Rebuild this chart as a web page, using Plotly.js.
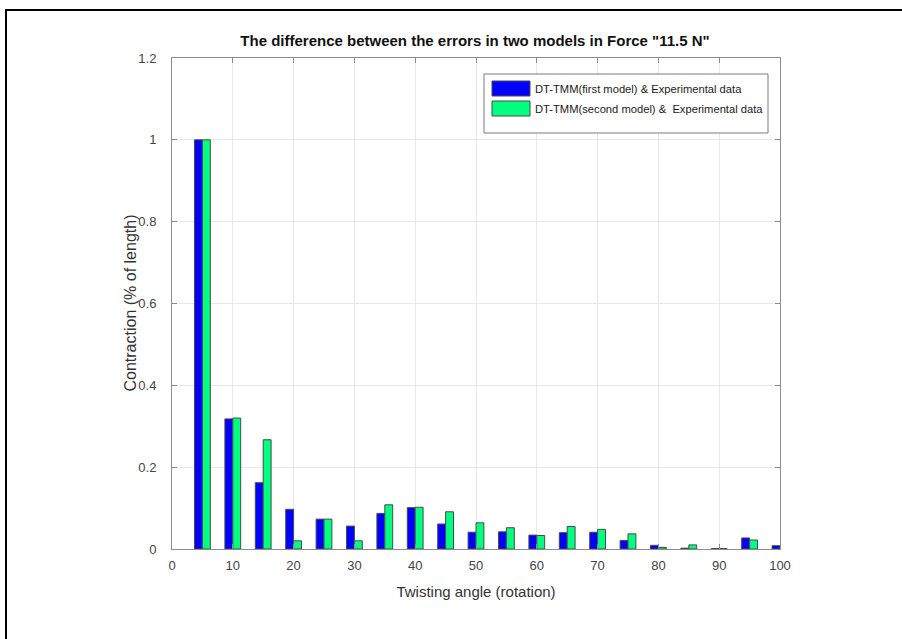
<!DOCTYPE html>
<html>
<head>
<meta charset="utf-8">
<script src="https://cdn.plot.ly/plotly-3.0.1.min.js"></script>
<style>
  html, body { margin: 0; padding: 0; background: #fff; }
  #wrap { position: relative; width: 902px; height: 639px; }
  #chart { width: 902px; height: 639px; }
  #frame { position: absolute; left: 5px; top: 9px; right: 0; bottom: 0;
           border-top: 2px solid #000; border-left: 2px solid #000; pointer-events: none; }
</style>
</head>
<body>
<div id="wrap">
  <div id="chart"></div>
  <div id="frame"></div>
</div>
<script>
// Twisting angle (rotation) for each group of bars
const angles = [5, 10, 15, 20, 25, 30, 35, 40, 45, 50, 55, 60, 65, 70, 75, 80, 85, 90, 95, 100];

// Normalised error differences for each model against experimental data
const firstModel  = [1.000, 0.318, 0.162, 0.097, 0.073, 0.056, 0.087, 0.101, 0.061, 0.041,
                     0.042, 0.034, 0.040, 0.041, 0.021, 0.009, 0.002, 0.001, 0.027, 0.008];
const secondModel = [1.000, 0.320, 0.267, 0.020, 0.073, 0.020, 0.108, 0.102, 0.091, 0.064,
                     0.052, 0.033, 0.055, 0.048, 0.037, 0.004, 0.010, 0.001, 0.022, 0.005];

const seriesNames = [
  'DT-TMM(first model) & Experimental data',
  'DT-TMM(second model) &  Experimental data'
];
const seriesColors = ['#0000ff', '#00ff80'];

const xTicks = [0, 10, 20, 30, 40, 50, 60, 70, 80, 90, 100];
const yTicks = [0, 0.2, 0.4, 0.6, 0.8, 1, 1.2];

const sans = '"Liberation Sans", Arial, sans-serif';
const barW = 1.3;

const traces = [firstModel, secondModel].map((vals, i) => ({
  type: 'bar',
  x: angles,
  y: vals,
  name: seriesNames[i],
  width: barW,
  offset: i === 0 ? -barW : 0,
  marker: { color: seriesColors[i], line: { color: '#4a4a4a', width: 1 } },
  showlegend: false,
  hoverinfo: 'x+y'
}));

// Plot area in pixels, used to place the boxed legend in paper coordinates
const PX = { l: 172, r: 780, t: 58, b: 549 };
const px2x = p => (p - PX.l) / (PX.r - PX.l);
const px2y = p => 1 - (p - PX.t) / (PX.b - PX.t);

const shapes = [{
  type: 'rect', xref: 'paper', yref: 'paper',
  x0: px2x(484), x1: px2x(768), y0: px2y(133), y1: px2y(74),
  line: { color: '#7a7a7a', width: 1 }, fillcolor: '#ffffff', layer: 'above'
}];
const annotations = [];
[[81, 96], [101, 116]].forEach(([top, bot], i) => {
  shapes.push({
    type: 'rect', xref: 'paper', yref: 'paper',
    x0: px2x(492), x1: px2x(530), y0: px2y(bot), y1: px2y(top),
    line: { color: '#4a4a4a', width: 1 }, fillcolor: seriesColors[i], layer: 'above'
  });
  annotations.push({
    xref: 'paper', yref: 'paper', x: px2x(533), y: px2y((top + bot) / 2),
    xanchor: 'left', yanchor: 'middle', showarrow: false,
    text: seriesNames[i], font: { family: sans, size: 11.2, color: '#1a1a1a' }
  });
});

// Vertical axis title, centred on the axis
annotations.push({
  xref: 'paper', yref: 'paper', x: px2x(130), y: 0.5,
  xanchor: 'center', yanchor: 'middle', showarrow: false, textangle: -90,
  text: 'Contraction (% of length)', font: { family: sans, size: 16, color: '#333' }
});

const axisCommon = {
  showline: true, linecolor: '#8c8c8c', linewidth: 1, mirror: 'ticks',
  ticks: 'inside', ticklen: 5, tickcolor: '#8c8c8c',
  showgrid: true, gridcolor: '#e8e8e8', gridwidth: 1,
  zeroline: false, fixedrange: true,
  tickfont: { family: sans, size: 13, color: '#444' }
};

const layout = {
  width: 902, height: 639,
  margin: { l: 172, r: 122, t: 58, b: 90 },
  paper_bgcolor: '#ffffff', plot_bgcolor: '#ffffff',
  barmode: 'overlay',
  title: {
    text: '<b>The difference between the errors in two models in Force "11.5 N"</b>',
    font: { family: sans, size: 15, color: '#111' },
    x: 475 / 902, xanchor: 'center', y: 1 - 41 / 639, yanchor: 'middle'
  },
  xaxis: Object.assign({}, axisCommon, {
    range: [0, 100], tickvals: xTicks, ticktext: xTicks.map(String),
    ticklabelstandoff: 4,
    title: { text: 'Twisting angle (rotation)', font: { family: sans, size: 15, color: '#333' }, standoff: 14 }
  }),
  yaxis: Object.assign({}, axisCommon, {
    range: [0, 1.2], tickvals: yTicks, ticktext: yTicks.map(String),
    ticklabelstandoff: 12
  }),
  shapes: shapes,
  annotations: annotations
};

Plotly.newPlot('chart', traces, layout, { displayModeBar: false, staticPlot: true });
</script>
</body>
</html>
